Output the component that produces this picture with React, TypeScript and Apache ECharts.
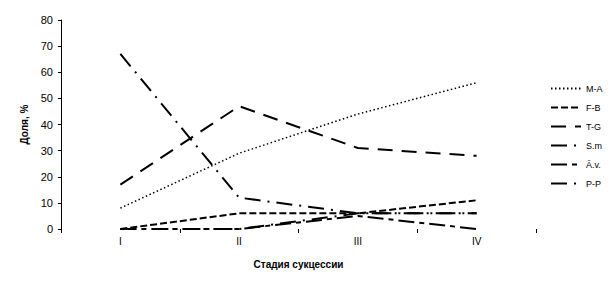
import React, { useEffect, useRef } from "react";
import * as echarts from "echarts";

const categories = ["I", "II", "III", "IV"];
const seriesNames = ["M-A", "F-B", "T-G", "S.m", "Ā.v.", "P-P"];
const valuesMA = [8, 29, 44, 56];
const valuesFB = [0, 6, 6, 11];
const valuesTG = [17, 47, 31, 28];
const valuesSm = [67, 12, 6, 6];
const valuesAv = [0, 0, 5, 0];
const valuesPP = [0, 0, 6, 6];

const dashes: number[][] = [
  [1.5, 2.5],
  [7, 3],
  [15, 9],
  [16, 7, 2, 7],
  [16, 5, 5, 5],
  [16, 7, 2, 7],
];
const widths = [1.5, 2, 2, 2, 2, 2];

export default function App() {
  const ref = useRef<HTMLDivElement>(null);
  useEffect(() => {
    if (!ref.current) return;
    const chart = echarts.init(ref.current, undefined, { renderer: "svg" });
    const all = [valuesMA, valuesFB, valuesTG, valuesSm, valuesAv, valuesPP];
    const font = "Liberation Sans, Arial, sans-serif";
    chart.setOption({
      animation: false,
      backgroundColor: "#fff",
      grid: { left: 61, right: 75, top: 20, bottom: 54 },
      legend: {
        orient: "vertical",
        left: 545,
        top: 79,
        itemWidth: 30,
        itemHeight: 8,
        itemGap: 10,
        data: seriesNames,
        itemStyle: { opacity: 0 },
        textStyle: { fontFamily: font, fontSize: 9, color: "#000" },
      },
      xAxis: {
        type: "category",
        data: categories,
        boundaryGap: true,
        name: "Стадия сукцессии",
        nameLocation: "middle",
        nameGap: 30,
        nameTextStyle: { fontFamily: font, fontSize: 10, fontWeight: "bold", color: "#000" },
        axisLine: { show: false },
        axisTick: { show: true, length: 4, lineStyle: { color: "#000" }, alignWithLabel: false },
        axisLabel: { fontFamily: font, fontSize: 10, color: "#000", margin: 7 },
      },
      yAxis: {
        type: "value",
        min: 0,
        max: 80,
        interval: 10,
        name: "Доля, %",
        nameLocation: "middle",
        nameGap: 30,
        nameRotate: 90,
        nameTextStyle: { fontFamily: font, fontSize: 10, fontWeight: "bold", color: "#000" },
        axisLine: { show: true, lineStyle: { color: "#000", width: 1 } },
        axisTick: { show: true, length: 3, lineStyle: { color: "#000" } },
        axisLabel: { fontFamily: font, fontSize: 11, color: "#000", margin: 8 },
        splitLine: { show: false },
      },
      series: seriesNames.map((n, i) => ({
        name: n,
        type: "line",
        data: all[i],
        symbol: "none",
        showSymbol: false,
        color: "#000",
        lineStyle: { color: "#000", width: widths[i], type: dashes[i] },
      })),
    });
    return () => chart.dispose();
  }, []);
  return <div ref={ref} style={{ width: 611, height: 283, position: "absolute", left: 0, top: 0 }} />;
}
